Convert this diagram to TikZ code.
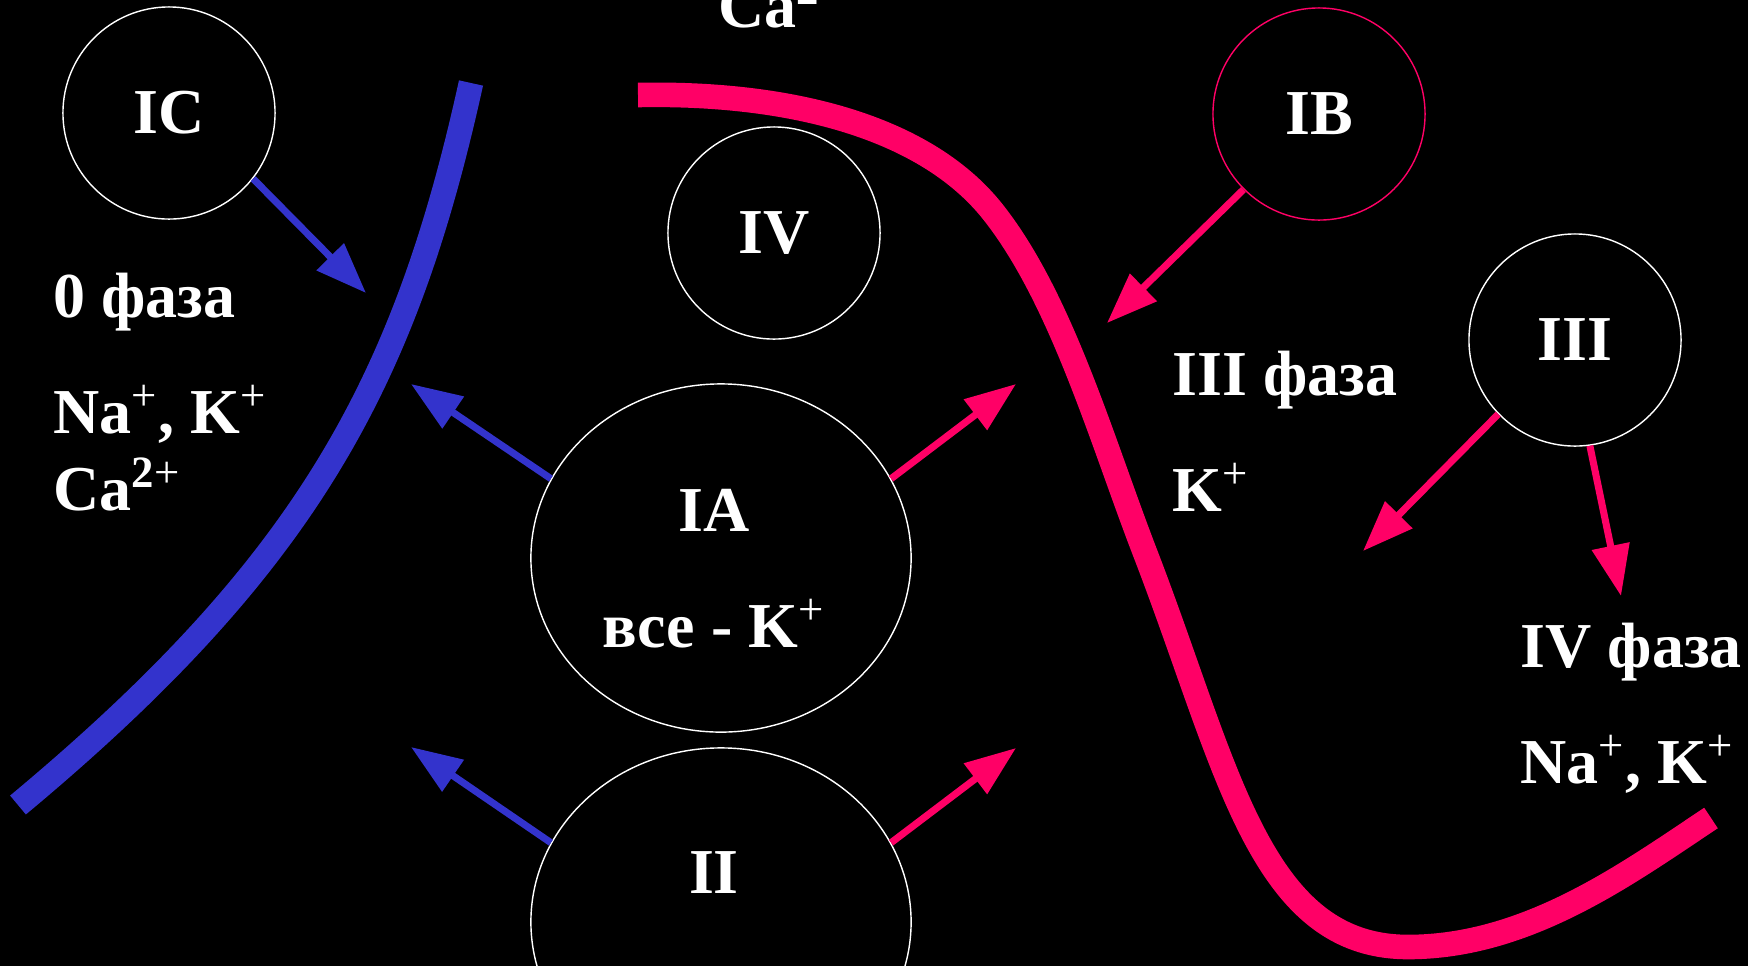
\documentclass[tikz,border=0pt]{standalone}
\usepackage{fontspec}
\setmainfont{Liberation Serif}
\usetikzlibrary{arrows.meta,shapes.geometric}
\definecolor{blue}{RGB}{51,51,204}
\definecolor{pink}{RGB}{255,0,102}
\newcommand{\ionp}{\textsuperscript{\mdseries +}}

\tikzset{
  phase/.style={circle, draw=white, line width=0.4pt, minimum size=2.12cm, inner sep=0pt, text=white},
  lbl/.style={text=white, inner sep=0pt},
  flow/.style={line width=2pt, -{Triangle[length=14.5pt,width=10.5pt]}},
  wave/.style={line width=7pt},
}

\begin{document}
\begin{tikzpicture}[x=0.01cm, y=-0.01cm, font=\fontsize{18.2}{22}\selectfont\bfseries]

% Background
\fill[black] (0,0) rectangle (1748,966);
\useasboundingbox (0,0) rectangle (1748,966);

% Action potential: depolarisation (blue) and repolarisation (pink)
\draw[blue, wave] (471,83) .. controls (405,383) and (306,565) .. (18,805);
\draw[pink, wave] (638,95) .. controls (788,92) and (925,126) .. (993,212)
    .. controls (1061,298) and (1101,438) .. (1144,550)
    .. controls (1227,764) and (1258,947) .. (1408,947)
    .. controls (1528,947) and (1628,873) .. (1711,818);

% Cut-off label at the top
\node[lbl, anchor=base west] (caTop) at (718,27) {Ca\textsuperscript{2\mdseries +}};

% Drug classes
\node[phase] (IC)  at (169,113)  {IC};
\node[phase] (IV)  at (774,233)  {IV};
\node[phase, draw=pink] (IB) at (1319,114) {IB};
\node[phase] (III) at (1575,340) {III};
\node[phase, ellipse, minimum width=3.8cm, minimum height=3.48cm] (IA) at (721,558) {};
\node[phase, ellipse, minimum width=3.8cm, minimum height=3.48cm] (II) at (721,922) {};

\node[lbl, anchor=base] (IAname) at (714,531) {IA};
\node[lbl, anchor=base] (IAion)  at (714,647) {все - K\ionp};
\node[lbl, anchor=base] (IIname) at (714,893) {II};

% Phases and ions
\node[lbl, anchor=base west] (ph0)  at (53,317)   {0 фаза};
\node[lbl, anchor=base west] (ion0) at (53,433)   {Na\ionp, K\ionp};
\node[lbl, anchor=base west] (ca0)  at (53,510)   {Ca\textsuperscript{2\mdseries +}};
\node[lbl, anchor=base west] (ph3)  at (1172,395) {III фаза};
\node[lbl, anchor=base west] (ion3) at (1172,511) {K\ionp};
\node[lbl, anchor=base west] (ph4)  at (1520,667) {IV фаза};
\node[lbl, anchor=base west] (ion4) at (1520,783) {Na\ionp, K\ionp};

% Arrow tips
\coordinate (tIC)   at (366,293);
\coordinate (tIAl)  at (411,384);
\coordinate (tIIl)  at (411,747);
\coordinate (tIAr)  at (1016,384);
\coordinate (tIIr)  at (1016,748);
\coordinate (tIB)   at (1107,323);
\coordinate (tIIIl) at (1363,551);
\coordinate (tIIId) at (1621,596);

% Where each class acts
\draw[blue, flow] (IC.-38)  -- (tIC);
\draw[blue, flow] (IA.155)  -- (tIAl);
\draw[blue, flow] (II.155)  -- (tIIl);
\draw[pink, flow] (IA.25)   -- (tIAr);
\draw[pink, flow] (II.25)   -- (tIIr);
\draw[pink, flow] (IB.225)  -- (tIB);
\draw[pink, flow] (III.224) -- (tIIIl);
\draw[pink, flow] (III.-82) -- (tIIId);

\end{tikzpicture}
\end{document}
